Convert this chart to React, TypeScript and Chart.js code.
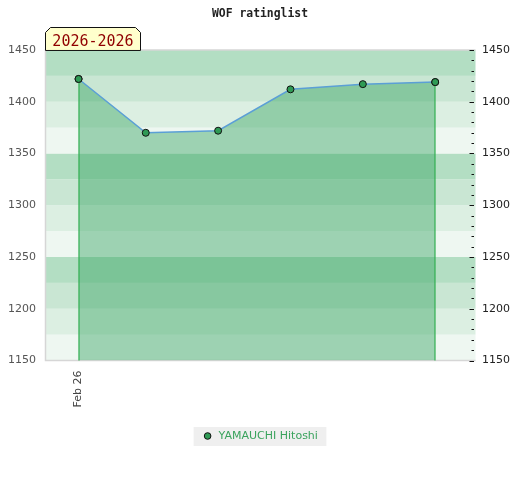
import React, { useEffect, useRef } from "react";
import { Chart, registerables } from "chart.js";

Chart.register(...registerables);

// ---- data ----
const chartTitle = "WOF ratinglist";
const periodLabel = "2026-2026";
const playerName = "YAMAUCHI Hitoshi";
// x positions (days relative to Feb 26) of each rating entry
const entryDays = [0, 6.5, 13.5, 20.5, 27.5, 34.5];
const ratings = [1422, 1370, 1372, 1412, 1417, 1419];
const xTickValues = [0];
const xTickLabels = ["Feb 26"];
const yMin = 1150;
const yMax = 1450;
const yMajorStep = 50;
const yMinorStep = 10;
const bandStep = 25;
const bandColors = ["#eef7f1", "#dcefe2", "#c9e6d3", "#b3dec3"];

const FONT = "'DejaVu Sans', Verdana, sans-serif";
const MONO = "'DejaVu Sans Mono', monospace";

const decorPlugin = {
  id: "decor",
  beforeDraw(chart: any) {
    const { ctx, chartArea } = chart;
    const lg = chart.legend;
    ctx.save();
    if (lg && lg.legendHitBoxes && lg.legendHitBoxes.length) {
      const hb = lg.legendHitBoxes[0];
      ctx.fillStyle = "#efefef";
      ctx.fillRect(hb.left - 8.5, hb.top - 3.5, hb.width + 17, hb.height + 8);
    }
    const y = chart.scales.y;
    for (let lo = yMin; lo < yMax; lo += bandStep) {
      const k = ((lo - yMin) / bandStep) % 4;
      const yTop = y.getPixelForValue(lo + bandStep);
      const yBot = y.getPixelForValue(lo);
      ctx.fillStyle = bandColors[k];
      ctx.fillRect(chartArea.left, yTop, chartArea.right - chartArea.left, yBot - yTop);
    }
    ctx.strokeStyle = "#d6d6d6";
    ctx.lineWidth = 1.5;
    ctx.beginPath();
    ctx.moveTo(chartArea.right, chartArea.top);
    ctx.lineTo(chartArea.left, chartArea.top);
    ctx.lineTo(chartArea.left, chartArea.bottom);
    ctx.lineTo(chartArea.right, chartArea.bottom);
    ctx.stroke();
    ctx.restore();
  },
  afterDatasetsDraw(chart: any) {
    const { ctx, chartArea } = chart;
    const y = chart.scales.y;
    ctx.save();
    ctx.strokeStyle = "#111";
    ctx.lineWidth = 1;
    for (let v = yMin; v <= yMax; v += yMinorStep) {
      const py = Math.round(y.getPixelForValue(v)) + 0.5;
      const major = (v - yMin) % yMajorStep === 0;
      const x1 = chartArea.right - 1.5;
      const x0 = x1 - (major ? 4.5 : 2.5);
      ctx.beginPath();
      ctx.moveTo(x0, py);
      ctx.lineTo(x1, py);
      ctx.stroke();
    }
    // period label box
    const left = chartArea.left;
    const right = left + 95;
    const top = 27.5;
    const bottom = chartArea.top + 0.5;
    const c = 5;
    ctx.beginPath();
    ctx.moveTo(left, bottom);
    ctx.lineTo(left, top + c);
    ctx.lineTo(left + c, top);
    ctx.lineTo(right - c, top);
    ctx.lineTo(right, top + c);
    ctx.lineTo(right, bottom);
    ctx.closePath();
    ctx.fillStyle = "#ffffcc";
    ctx.fill();
    ctx.strokeStyle = "#111";
    ctx.stroke();
    ctx.fillStyle = "#900000";
    ctx.font = `15px ${MONO}`;
    ctx.textAlign = "center";
    ctx.textBaseline = "alphabetic";
    ctx.fillText(periodLabel, (left + right) / 2, 45.5);
    ctx.restore();
  },
  afterDraw(chart: any) {
    const { ctx, chartArea } = chart;
    const pts = chart.getDatasetMeta(0).data;
    if (!pts.length) return;
    ctx.save();
    const ends = [pts[0], pts[pts.length - 1]];
    ctx.globalAlpha = 1;
    ctx.globalCompositeOperation = "source-over";
    ctx.setLineDash([]);
    ctx.strokeStyle = "#33b052";
    ctx.lineWidth = 1.2;
    ends.forEach((p: any) => {
      const x = Math.round(p.x);
      ctx.beginPath();
      ctx.moveTo(x, p.y);
      ctx.lineTo(x, chartArea.bottom);
      ctx.stroke();
    });
    ends.forEach((p: any) => p.draw(ctx, chartArea));
    ctx.restore();
  },
};

export default function App() {
  const ref = useRef<HTMLCanvasElement>(null);
  useEffect(() => {
    if (!ref.current) return;
    const chart = new Chart(ref.current, {
      type: "line",
      data: {
        datasets: [
          {
            label: playerName,
            data: entryDays.map((d, i) => ({ x: d, y: ratings[i] })),
            borderColor: "#5b9fd6",
            borderWidth: 1.5,
            backgroundColor: "rgba(46,160,90,0.42)",
            fill: "start",
            tension: 0,
            pointRadius: 3.5,
            pointBackgroundColor: "#2f9a55",
            pointBorderColor: "#111",
            pointBorderWidth: 1,
          },
        ],
      },
      options: {
        responsive: false,
        animation: false,
        layout: { padding: { bottom: 28.5 } },
        plugins: {
          title: {
            display: true,
            text: chartTitle,
            color: "#222",
            font: { family: MONO, size: 11.4, weight: "bold", lineHeight: 1.2 },
            padding: { top: 7, bottom: 29.3 },
          },
          legend: {
            display: true,
            position: "bottom",
            labels: {
              usePointStyle: true,
              pointStyle: "circle",
              boxWidth: 11,
              boxHeight: 4.7,
              padding: 10,
              color: "#3aa35d",
              font: { family: FONT, size: 11 },
            },
          },
          tooltip: { enabled: false },
        },
        scales: {
          x: {
            type: "linear",
            min: -3.2,
            max: 38.4,
            grid: { display: false, drawTicks: false },
            border: { display: false },
            afterBuildTicks: (scale: any) => {
              scale.ticks = xTickValues.map((v) => ({ value: v }));
            },
            afterFit: (scale: any) => {
              scale.height = 60;
            },
            ticks: {
              autoSkip: false,
              minRotation: 90,
              maxRotation: 90,
              padding: 10,
              color: "#444",
              font: { family: FONT, size: 11 },
              callback: (value: any) => {
                const i = xTickValues.indexOf(Number(value));
                return i >= 0 ? xTickLabels[i] : "";
              },
            },
          },
          y: {
            type: "linear",
            position: "left",
            min: yMin,
            max: yMax,
            grid: { display: false, drawTicks: false },
            border: { display: false },
            afterFit: (scale: any) => {
              scale.width = 45.5;
            },
            ticks: {
              stepSize: yMajorStep,
              padding: 9.5,
              color: "#555",
              font: { family: FONT, size: 11 },
              callback: (v: any) => String(v),
            },
          },
          y2: {
            type: "linear",
            position: "right",
            min: yMin,
            max: yMax,
            grid: { display: false, drawTicks: false },
            border: { display: false },
            afterFit: (scale: any) => {
              scale.width = 44.5;
            },
            ticks: {
              stepSize: yMajorStep,
              padding: 6.5,
              color: "#222",
              font: { family: FONT, size: 11 },
              callback: (v: any) => String(v),
            },
          },
        },
      },
      plugins: [decorPlugin],
    } as any);
    return () => chart.destroy();
  }, []);
  return (
    <div style={{ position: "absolute", left: 0, top: 0, width: 520, height: 480, background: "#fff" }}>
      <canvas ref={ref} width={520} height={480} />
    </div>
  );
}
